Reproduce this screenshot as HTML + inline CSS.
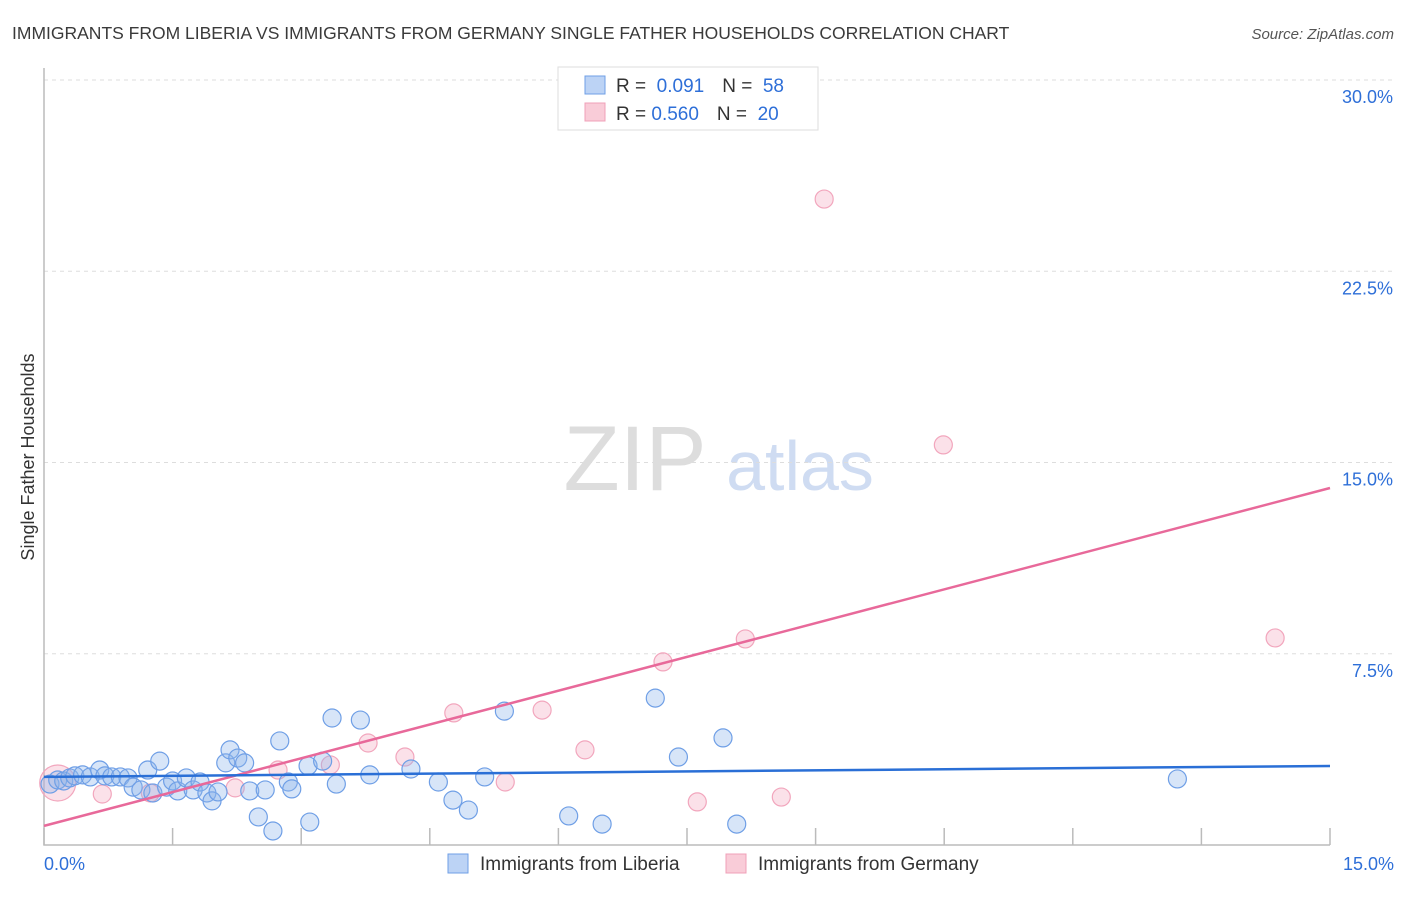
<!DOCTYPE html>
<html><head><meta charset="utf-8"><style>
body{margin:0;background:#fff;font-family:"Liberation Sans",sans-serif}
svg text{font-family:"Liberation Sans",sans-serif}
</style></head><body>
<svg id="c" width="1406" height="892">
<text x="12" y="39" font-size="17.5" fill="#3a3a3a">IMMIGRANTS FROM LIBERIA VS IMMIGRANTS FROM GERMANY SINGLE FATHER HOUSEHOLDS CORRELATION CHART</text>
<text x="1394" y="39" font-size="15" fill="#555" font-style="italic" text-anchor="end">Source: ZipAtlas.com</text>
<text x="34" y="457" font-size="18" fill="#333" text-anchor="middle" transform="rotate(-90 34 457)">Single Father Households</text>
<g><text x="635" y="490" font-size="92" fill="#ddd" font-family="Liberation Serif" text-anchor="middle">ZIP</text><text x="800" y="490" font-size="70" fill="#cfdcf2" text-anchor="middle">atlas</text></g>
<g id="grid"></g><g id="axes"></g><g id="pts"></g><g id="lines"></g>
<g>
<rect x="558" y="67" width="260" height="63" fill="#fff" stroke="#ddd"/>
<rect x="585" y="76" width="20" height="18" fill="#bcd3f5" stroke="#6f9fe6"/>
<text x="616" y="92" font-size="19" fill="#333">R = <tspan fill="#2e6fd8">&#160;0.091</tspan><tspan dx="18">N = </tspan><tspan fill="#2e6fd8">&#160;58</tspan></text>
<rect x="585" y="103" width="20" height="18" fill="#f9ccd8" stroke="#f0a0b8"/>
<text x="616" y="120" font-size="19" fill="#333">R = <tspan fill="#2e6fd8">0.560</tspan><tspan dx="18">N = </tspan><tspan fill="#2e6fd8">&#160;20</tspan></text>
</g>
<g>
<rect x="448" y="854" width="20" height="19" fill="#bcd3f5" stroke="#6f9fe6"/>
<text x="480" y="870" font-size="19" fill="#333">Immigrants from Liberia</text>
<rect x="726" y="854" width="20" height="19" fill="#f9ccd8" stroke="#f0a0b8"/>
<text x="758" y="870" font-size="19" fill="#333">Immigrants from Germany</text>
</g>
</svg>
<script>
const yTicks=[7.5,15,22.5,30];
const yTickLabels=["7.5%","15.0%","22.5%","30.0%"];
const xTicks=[0,1.5,3,4.5,6,7.5,9,10.5,12,13.5,15];
const blueX=[0.07,0.16,0.23,0.30,0.36,0.45,0.54,0.65,0.71,0.79,0.89,0.98,1.04,1.13,1.21,1.27,1.35,1.43,1.50,1.56,1.66,1.74,1.82,1.90,1.96,2.03,2.12,2.17,2.26,2.34,2.40,2.50,2.58,2.67,2.75,2.85,2.89,3.08,3.10,3.25,3.36,3.41,3.69,3.80,4.28,4.60,4.77,4.95,5.14,5.37,6.12,6.51,7.13,7.40,7.92,8.08,13.22];
const blueY=[2.39,2.55,2.51,2.63,2.71,2.75,2.67,2.94,2.71,2.67,2.67,2.63,2.27,2.16,2.94,2.04,3.29,2.27,2.51,2.12,2.63,2.16,2.47,2.04,1.73,2.08,3.22,3.73,3.41,3.22,2.12,1.10,2.16,0.55,4.08,2.47,2.20,3.10,0.90,3.29,4.98,2.39,4.90,2.75,2.98,2.47,1.76,1.37,2.67,5.25,1.14,0.82,5.76,3.45,4.20,0.82,2.59];
const pinkX=[0.16,0.68,1.24,2.23,2.73,3.34,3.78,4.21,4.78,5.38,5.81,6.31,7.22,7.62,8.18,8.60,9.10,10.49,14.36];
const pinkY=[2.43,2.00,2.04,2.24,2.94,3.14,4.00,3.45,5.18,2.47,5.29,3.73,7.18,1.69,8.08,1.88,25.33,15.69,8.12];
const blueLine=[2.67,3.10];
const pinkLine=[0.75,14.0];
const NS="http://www.w3.org/2000/svg";
const X=v=>44+v/15*1286, Y=v=>845-v/30*765;
function mk(t,a,p){const e=document.createElementNS(NS,t);for(const k in a)e.setAttribute(k,a[k]);p.appendChild(e);return e;}
const grid=document.getElementById('grid'),axes=document.getElementById('axes'),pts=document.getElementById('pts'),lines=document.getElementById('lines');
yTicks.forEach((t,i)=>{
 const g=mk('line',{x1:44,x2:1394,y1:Y(t),y2:Y(t),stroke:'#ddd','stroke-dasharray':'4,4'},grid);
 
 
 const l=mk('text',{x:1393,y:Y(t)+23,'font-size':18,fill:'#2e6fd8','text-anchor':'end'},axes);
 l.textContent=yTickLabels[i];
 
 
});
const ax=mk('path',{d:'M44 68 V845 H1330',fill:'none',stroke:'#bbb','stroke-width':1.5},axes);


xTicks.forEach(t=>{
 const k=mk('line',{x1:X(t),x2:X(t),y1:828,y2:845,stroke:'#bbb','stroke-width':1.5},axes);
 
 
});
const xl0=mk('text',{x:44,y:870,'font-size':18,fill:'#2e6fd8'},axes);xl0.textContent='0.0%';


const xl1=mk('text',{x:1394,y:870,'font-size':18,fill:'#2e6fd8','text-anchor':'end'},axes);xl1.textContent='15.0%';


pinkX.forEach((v,i)=>{
 const c=mk('circle',{cx:X(v),cy:Y(pinkY[i]),r:i===0?18:9,fill:'rgba(244,170,192,0.35)',stroke:'#f2a6bd','stroke-width':1.2},pts);
 
 
});
blueX.forEach((v,i)=>{
 const c=mk('circle',{cx:X(v),cy:Y(blueY[i]),r:9,fill:'rgba(140,180,235,0.35)',stroke:'#6f9fe6','stroke-width':1.2},pts);
 
 
});
const pl=mk('line',{x1:X(0),y1:Y(pinkLine[0]),x2:X(15),y2:Y(pinkLine[1]),stroke:'#e8699a','stroke-width':2.5},lines);


const bl=mk('line',{x1:X(0),y1:Y(blueLine[0]),x2:X(15),y2:Y(blueLine[1]),stroke:'#2a6fd6','stroke-width':2.5},lines);


</script>
</body></html>
